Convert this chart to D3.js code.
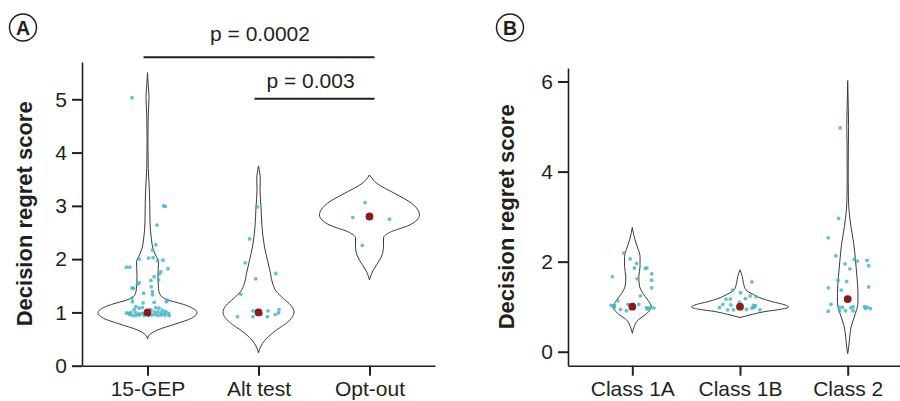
<!DOCTYPE html>
<html>
<head>
<meta charset="utf-8">
<script src="https://cdn.jsdelivr.net/npm/d3@7"></script>
<style>
	body { margin: 0; background: #fff; }
	svg { display: block; font-family: "Liberation Sans", Arial, Helvetica, sans-serif; }
</style>
</head>
<body>
<div id="chart"></div>
<script>
// panel A: 15-GEP vs alternative test vs opt-out
const panelACategories = ['15-GEP', 'Alt test', 'Opt-out'];
const panelATicks = [0, 1, 2, 3, 4, 5];
const panelAMedians = [1.0, 1.0, 2.8];

// violin outlines: [score, relative density]
const gepViolin = [[0.5, 0], [0.58, 0.04], [0.67, 0.2], [0.78, 0.55], [0.89, 0.88], [1.0, 0.99], [1.08, 0.9],
	[1.15, 0.72], [1.23, 0.42], [1.32, 0.26], [1.45, 0.22], [1.7, 0.21], [1.95, 0.22], [2.08, 0.16], [2.2, 0.11],
	[2.36, 0.08], [2.7, 0.05], [3.05, 0.045], [3.35, 0.035], [3.7, 0.015], [4.2, 0.008], [4.7, 0.015],
	[5.05, 0.03], [5.3, 0.012], [5.5, 0]];
const altTestViolin = [[0.24, 0], [0.35, 0.04], [0.48, 0.13], [0.67, 0.36], [0.8, 0.56], [0.92, 0.68], [1.01, 0.71],
	[1.14, 0.64], [1.26, 0.5], [1.39, 0.36], [1.55, 0.28], [1.73, 0.24], [1.98, 0.18], [2.23, 0.12], [2.61, 0.07],
	[2.98, 0.05], [3.3, 0.03], [3.5, 0.035], [3.75, 0]];
const optOutViolin = [[1.61, 0], [1.7, 0.03], [1.8, 0.08], [1.98, 0.2], [2.1, 0.26], [2.25, 0.28], [2.4, 0.28],
	[2.5, 0.4], [2.64, 0.8], [2.83, 1.0], [3.05, 0.84], [3.23, 0.51], [3.42, 0.15], [3.58, 0]];

// jittered patients: [offset in category steps, score]
const gepPoints = [[-0.14, 5.03], [0.145, 3.0], [0.16, 2.99], [0.085, 2.64], [0.075, 2.27], [0.045, 2.17],
	[-0.075, 2.0], [0.01, 2.02], [0.05, 2.03], [0.09, 1.97], [0.14, 1.98], [-0.19, 1.85], [-0.16, 1.85],
	[0.185, 1.82], [0.12, 1.76], [0.105, 1.72], [0.06, 1.67], [0.1, 1.61], [0.03, 1.6], [-0.075, 1.56],
	[-0.09, 1.53], [0.035, 1.48], [-0.14, 1.46], [-0.125, 1.45], [0.045, 1.39], [-0.035, 1.36], [0.045, 1.33],
	[-0.14, 1.27], [0.18, 1.23], [-0.04, 1.18], [0.06, 1.19], [0.17, 1.2], [-0.135, 1.2], [-0.105, 1.11],
	[-0.075, 1.08], [-0.045, 1.09], [0.075, 1.09], [0.105, 1.08], [-0.19, 0.99], [-0.17, 0.98], [-0.15, 1.0],
	[-0.105, 0.99], [-0.075, 0.97], [-0.045, 0.98], [-0.015, 0.99], [0.06, 1.01], [0.09, 1.01], [0.12, 0.99],
	[0.15, 0.98], [0.19, 0.98], [-0.135, 0.94], [-0.105, 0.94], [-0.075, 0.95], [-0.03, 0.94], [0.01, 0.94],
	[0.04, 0.95], [0.07, 0.96], [0.095, 0.94], [0.125, 0.95], [0.16, 0.95], [0.195, 0.94], [-0.16, 0.96],
	[0.135, 1.04], [0.165, 1.02], [-0.12, 1.05], [0.03, 1.05]];
const altTestPoints = [[-0.01, 2.98], [-0.08, 2.38], [-0.12, 1.93], [-0.025, 1.63], [0.155, 1.73], [-0.16, 1.34],
	[-0.05, 1.03], [0.085, 1.03], [0.185, 1.05], [0.18, 0.99], [0.025, 0.97], [0.15, 0.96], [-0.19, 0.92],
	[-0.05, 0.92], [0.08, 0.92]];
const optOutPoints = [[-0.04, 3.06], [-0.15, 2.78], [0.18, 2.75], [-0.065, 2.26]];

const comparisons = [
	{ from: '15-GEP', to: 'Opt-out', level: 5.79, label: 'p = 0.0002' },
	{ from: 'Alt test', to: 'Opt-out', level: 5.01, label: 'p = 0.003' }
];

// panel B: by GEP class
const panelBCategories = ['Class 1A', 'Class 1B', 'Class 2'];
const panelBTicks = [0, 2, 4, 6];
const panelBMedians = [1.0, 1.0, 1.17];

const class1AViolin = [[0.41, 0], [0.56, 0.04], [0.7, 0.11], [0.85, 0.29], [1.0, 0.38], [1.15, 0.31], [1.3, 0.21],
	[1.48, 0.14], [1.67, 0.13], [1.89, 0.155], [2.11, 0.155], [2.33, 0.1], [2.5, 0.05], [2.76, 0]];
const class1BViolin = [[0.76, 0], [0.83, 0.25], [0.89, 0.49], [0.95, 0.85], [0.99, 0.97], [1.04, 0.9], [1.11, 0.65],
	[1.19, 0.42], [1.28, 0.25], [1.37, 0.12], [1.52, 0.07], [1.67, 0.045], [1.82, 0]];
const class2Violin = [[-0.04, 0], [0.1, 0.02], [0.33, 0.04], [0.56, 0.07], [0.85, 0.155], [1.08, 0.205], [1.3, 0.205],
	[1.67, 0.185], [2.04, 0.155], [2.41, 0.12], [2.78, 0.065], [3.15, 0.026], [3.44, 0.014], [3.8, 0.01],
	[4.5, 0.012], [5.0, 0.018], [5.4, 0.012], [6.02, 0]];

const class1APoints = [[-0.08, 2.19], [-0.02, 2.06], [0.04, 1.96], [0.02, 1.86], [0.12, 1.85], [0.135, 1.86],
	[0.18, 1.73], [-0.185, 1.67], [0.045, 1.62], [0.18, 1.59], [0.18, 1.42], [0.075, 1.24], [-0.135, 1.13],
	[-0.165, 1.03], [-0.17, 1.02], [-0.195, 1.03], [-0.04, 1.05], [0.01, 1.05], [0.06, 1.05], [-0.17, 0.98],
	[-0.11, 0.94], [-0.055, 0.91], [0.13, 0.98], [0.16, 0.98], [0.2, 0.97], [0.14, 0.95]];
const class1BPoints = [[0.11, 1.55], [-0.07, 1.37], [0.005, 1.31], [0.095, 1.24], [0.15, 1.22], [0.05, 1.18],
	[-0.13, 1.17], [-0.09, 1.17], [-0.16, 1.05], [-0.085, 1.04], [-0.005, 1.1], [0.125, 1.03], [0.145, 1.02],
	[-0.19, 0.98], [-0.115, 0.93], [-0.06, 0.93], [0.06, 0.94], [0.185, 0.93], [0.13, 0.98], [0.11, 0.97]];
const class2Points = [[-0.07, 4.97], [-0.085, 2.96], [-0.18, 2.53], [-0.11, 2.13], [0.06, 2.05], [0.09, 2.01],
	[0.18, 2.03], [-0.025, 1.95], [0.195, 1.91], [0.02, 1.84], [-0.09, 1.59], [-0.01, 1.56], [-0.18, 1.42],
	[0.195, 1.44], [-0.06, 1.37], [-0.155, 1.05], [-0.08, 0.99], [-0.05, 0.99], [0.05, 1.0], [0.03, 0.98],
	[0.155, 1.0], [0.18, 0.99], [0.165, 0.96], [0.21, 0.96], [-0.18, 0.9], [-0.075, 0.91], [-0.02, 0.91],
	[0.05, 0.91]];

const INK = '#231f20';
const POINT_COLOR = '#3db3c9';
const MEDIAN_COLOR = '#8b1a1c';
const LABEL_SIZE = '21px';

const svg = d3.select('#chart').append('svg')
	.attr('width', 900)
	.attr('height', 401);

/**
 * Draws one violin panel with its axes.
 * @param {Object} cfg
 */
function drawPanel(cfg) {
	const x = d3.scalePoint().domain(cfg.categories).range(cfg.xRange).padding(cfg.padding);
	const y = d3.scaleLinear().domain(cfg.yDomain).range(cfg.yRange);
	const jitter = d3.scaleLinear().domain([0, 1]).range([0, x.step()]);
	const halfWidth = d3.scaleLinear().domain([0, 1]).range([0, 50]);

	const g = svg.append('g');

	// axes
	const xAxis = g.append('g')
		.attr('transform', `translate(0,${cfg.yRange[0]})`)
		.call(d3.axisBottom(x).tickSize(10).tickSizeOuter(0).tickPadding(5.5));
	const yAxis = g.append('g')
		.attr('transform', `translate(${cfg.xRange[0]},0)`)
		.call(d3.axisLeft(y)
			.tickValues(cfg.ticks)
			.tickFormat(d3.format('d'))
			.tickSize(10)
			.tickSizeOuter(0)
			.tickPadding(5));

	[xAxis, yAxis].forEach(a => {
		a.select('.domain').attr('stroke', INK).attr('stroke-width', 1.6);
		a.selectAll('.tick line').attr('stroke', INK).attr('stroke-width', 2);
		a.selectAll('.tick text')
			.attr('fill', INK)
			.style('font-size', LABEL_SIZE)
			.style('font-family', '"Liberation Sans", Arial, sans-serif');
	});

	g.append('text')
		.attr('transform', `translate(${cfg.titleX},${(cfg.yRange[0] + cfg.yRange[1]) / 2}) rotate(-90)`)
		.attr('text-anchor', 'middle')
		.attr('fill', INK)
		.style('font-size', '22px')
		.style('font-weight', 'bold')
		.text('Decision regret score');

	// violins
	cfg.categories.forEach((cat, i) => {
		const cx = x(cat);
		const area = d3.area()
			.curve(d3.curveMonotoneY)
			.y(d => y(d[0]))
			.x0(d => cx - halfWidth(d[1]))
			.x1(d => cx + halfWidth(d[1]));
		const profile = cfg.violins[i].slice().sort((a, b) => b[0] - a[0]);

		g.append('path')
			.datum(profile)
			.attr('d', area)
			.attr('fill', 'none')
			.attr('stroke', '#3a3a3a')
			.attr('stroke-width', 1);

		g.append('g')
			.selectAll('circle')
			.data(cfg.points[i])
			.join('circle')
			.attr('cx', d => cx + jitter(d[0]))
			.attr('cy', d => y(d[1]))
			.attr('r', 1.9)
			.attr('fill', POINT_COLOR)
			.attr('fill-opacity', 0.8);

		g.append('circle')
			.attr('cx', cx)
			.attr('cy', y(cfg.medians[i]))
			.attr('r', 3.9)
			.attr('fill', MEDIAN_COLOR);
	});

	// panel letter
	g.append('circle')
		.attr('cx', cfg.letterPos[0])
		.attr('cy', cfg.letterPos[1])
		.attr('r', 13.5)
		.attr('fill', 'none')
		.attr('stroke', INK)
		.attr('stroke-width', 1.5);
	g.append('text')
		.attr('x', cfg.letterPos[0])
		.attr('y', cfg.letterPos[1] + 7)
		.attr('text-anchor', 'middle')
		.attr('fill', INK)
		.style('font-size', '19.5px')
		.style('font-weight', 'bold')
		.text(cfg.letter);

	return { x, y, g };
}

const panelA = drawPanel({
	categories: panelACategories,
	violins: [gepViolin, altTestViolin, optOutViolin],
	points: [gepPoints, altTestPoints, optOutPoints],
	medians: panelAMedians,
	ticks: panelATicks,
	xRange: [82, 435],
	padding: 0.59,
	yDomain: [0, 5.7],
	yRange: [365.7, 62],
	titleX: 31.5,
	letter: 'A',
	letterPos: [23, 27.5]
});

drawPanel({
	categories: panelBCategories,
	violins: [class1AViolin, class1BViolin, class2Violin],
	points: [class1APoints, class1BPoints, class2Points],
	medians: panelBMedians,
	ticks: panelBTicks,
	xRange: [568, 912],
	padding: 0.597,
	yDomain: [-0.31, 6.3],
	yRange: [365.7, 68],
	titleX: 514,
	letter: 'B',
	letterPos: [510, 27.5]
});

// significance brackets
const labelGap = [16, 10.5];
comparisons.forEach((c, i) => {
	const x1 = panelA.x(c.from) - 4;
	const x2 = panelA.x(c.to) + 5;
	const ly = panelA.y(c.level);
	panelA.g.append('line')
		.attr('x1', x1).attr('x2', x2)
		.attr('y1', ly).attr('y2', ly)
		.attr('stroke', INK)
		.attr('stroke-width', 2);
	panelA.g.append('text')
		.attr('x', (x1 + x2) / 2 + (i === 0 ? 1 : -4))
		.attr('y', ly - labelGap[i])
		.attr('text-anchor', 'middle')
		.attr('fill', INK)
		.style('font-size', LABEL_SIZE)
		.text(c.label);
});
</script>
</body>
</html>
